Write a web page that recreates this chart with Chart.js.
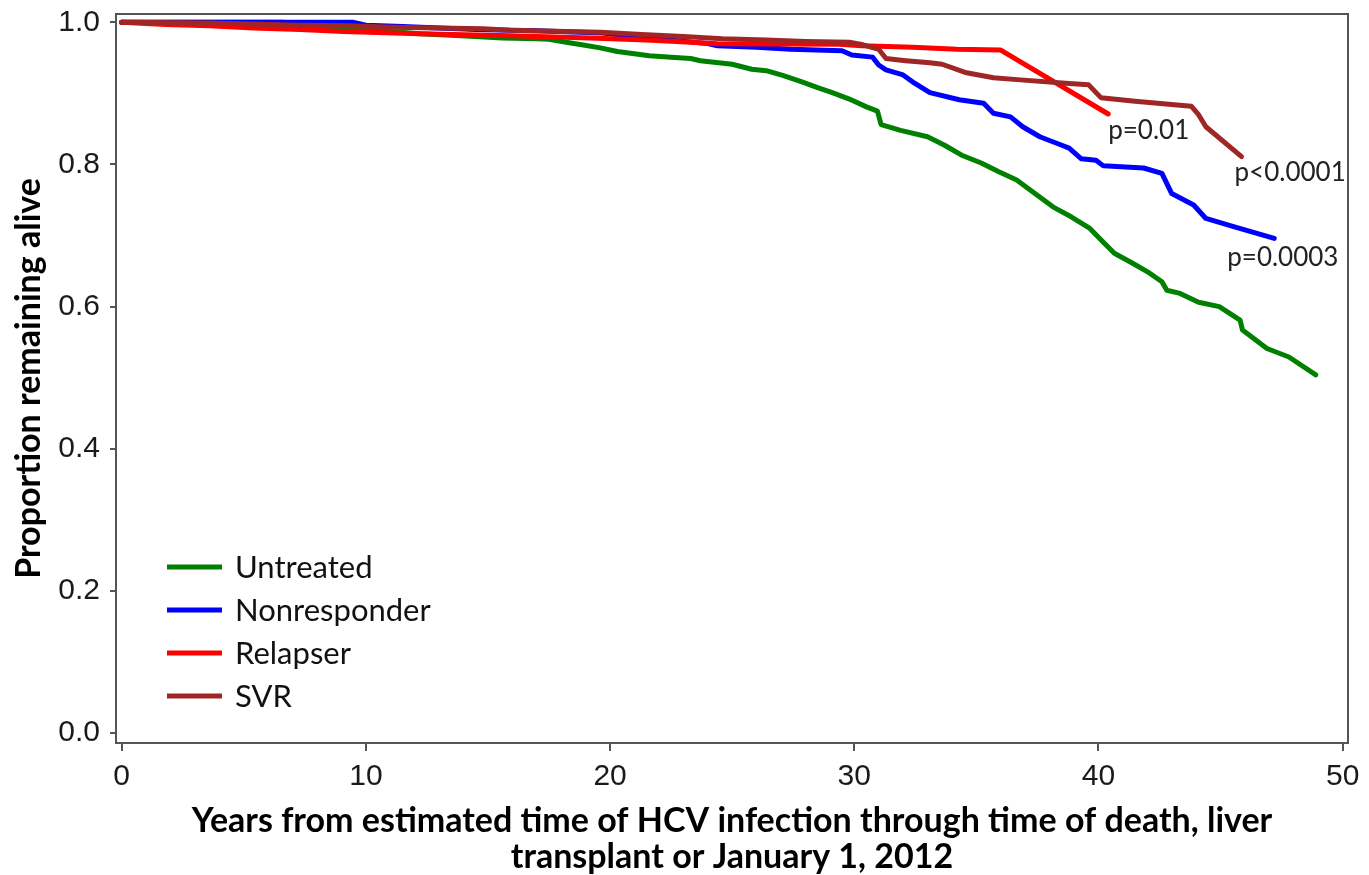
<!DOCTYPE html>
<html>
<head>
<meta charset="utf-8">
<script src="https://cdn.jsdelivr.net/npm/chart.js@4.4.1/dist/chart.umd.min.js"></script>
<style>
html,body{margin:0;padding:0;background:#fff;}
#wrap{width:1369px;height:875px;position:relative;}
</style>
</head>
<body>
<div id="wrap"><canvas id="c"></canvas></div>
<script>
// ---- Data ----
const seriesNames = ["Untreated", "Nonresponder", "Relapser", "SVR"];
const pLabels = ["p=0.01", "p<0.0001", "p=0.0003"];
const xTickValues = [0, 10, 20, 30, 40, 50];
const yTickValues = [0.0, 0.2, 0.4, 0.6, 0.8, 1.0];
const xTitle = ["Years from estimated time of HCV infection through time of death, liver", "transplant or January 1, 2012"];
const yTitle = "Proportion remaining alive";

const untreatedT = [0, 6.6, 7.5, 10, 12.2, 13.9, 15.6, 17.0, 17.5, 18.2, 18.9, 19.6, 20.3, 21.6, 22.5, 23.3, 23.7, 25.0, 25.8, 26.4, 27.1, 27.8, 28.5, 29.1, 29.8, 30.5, 30.95, 31.1, 31.9, 33.0, 33.7, 34.4, 35.2, 35.9, 36.65, 37.4, 38.15, 38.9, 39.65, 40.1, 40.65, 41.4, 42.1, 42.6, 42.8, 43.3, 44.1, 44.95, 45.8, 45.9, 46.9, 47.8, 48.9];
const untreatedS = [1.0, 1.0, 0.995, 0.990, 0.984, 0.981, 0.978, 0.977, 0.976, 0.972, 0.968, 0.964, 0.959, 0.953, 0.951, 0.949, 0.946, 0.941, 0.934, 0.932, 0.925, 0.917, 0.908, 0.901, 0.892, 0.881, 0.875, 0.856, 0.848, 0.839, 0.827, 0.813, 0.802, 0.790, 0.778, 0.759, 0.740, 0.726, 0.710, 0.694, 0.675, 0.661, 0.647, 0.635, 0.623, 0.619, 0.606, 0.600, 0.581, 0.567, 0.541, 0.529, 0.504];

const nonrespT = [0, 9.5, 10.0, 11.5, 14.5, 17.0, 19.7, 21.0, 24.0, 24.4, 26.0, 27.4, 29.5, 29.9, 30.75, 31.0, 31.3, 32.0, 32.4, 33.1, 34.3, 35.3, 35.7, 36.4, 36.9, 37.6, 38.5, 38.8, 39.3, 39.9, 40.2, 41.85, 42.6, 43.0, 43.9, 44.4, 45.5, 47.2];
const nonrespS = [1.0, 1.0, 0.996, 0.994, 0.990, 0.988, 0.985, 0.980, 0.970, 0.967, 0.965, 0.962, 0.960, 0.954, 0.951, 0.940, 0.933, 0.926, 0.916, 0.901, 0.891, 0.886, 0.872, 0.867, 0.853, 0.839, 0.827, 0.823, 0.808, 0.806, 0.798, 0.795, 0.7875, 0.759, 0.743, 0.724, 0.713, 0.696];

const relapserT = [0, 1.8, 3.6, 5.4, 7.3, 9.1, 12.2, 15.9, 19.2, 21.5, 23.3, 24.4, 29.4, 30.3, 32.4, 34.2, 36.0, 40.4];
const relapserS = [1.0, 0.997, 0.995, 0.992, 0.990, 0.987, 0.984, 0.981, 0.978, 0.975, 0.972, 0.970, 0.969, 0.967, 0.965, 0.962, 0.961, 0.871];

const svrT = [0, 3.6, 7.3, 9.3, 11.1, 14.8, 15.9, 19.6, 21.3, 23.0, 24.6, 26.4, 28.0, 29.8, 30.3, 31.0, 31.3, 32.1, 33.1, 33.6, 34.6, 35.7, 36.8, 38.8, 39.6, 40.1, 41.5, 43.8, 44.1, 44.4, 45.86];
const svrS = [1.0, 0.999, 0.996, 0.995, 0.993, 0.991, 0.989, 0.986, 0.983, 0.980, 0.977, 0.975, 0.973, 0.972, 0.969, 0.962, 0.949, 0.946, 0.943, 0.941, 0.929, 0.922, 0.919, 0.914, 0.912, 0.894, 0.889, 0.882, 0.870, 0.853, 0.811];

// ---- Styles ----
const colors = ["#008000", "#0000ff", "#ff0000", "#a02626"];
const toPts = (T, S) => T.map((t, i) => ({x: t, y: S[i]}));

const datasets = [
  {label: seriesNames[0], data: toPts(untreatedT, untreatedS), borderColor: colors[0], order: 3},
  {label: seriesNames[1], data: toPts(nonrespT, nonrespS), borderColor: colors[1], order: 2},
  {label: seriesNames[2], data: toPts(relapserT, relapserS), borderColor: colors[2], order: 1},
  {label: seriesNames[3], data: toPts(svrT, svrS), borderColor: colors[3], order: 0}
].map(d => Object.assign(d, {borderWidth: 5, pointRadius: 0, tension: 0, fill: false, borderJoinStyle: 'round', borderCapStyle: 'round'}));

const boxPlugin = {
  id: 'box',
  afterDraw(chart) {
    const {ctx, chartArea: a} = chart;
    ctx.save();
    ctx.strokeStyle = '#555';
    ctx.lineWidth = 2;
    ctx.strokeRect(a.left, a.top, a.right - a.left, a.bottom - a.top);
    ctx.restore();
  }
};

const legendPlugin = {
  id: 'inlegend',
  afterDatasetsDraw(chart) {
    const {ctx, chartArea: a} = chart;
    ctx.save();
    ctx.font = '31px Lato';
    ctx.textBaseline = 'middle';
    ctx.fillStyle = '#111';
    const x0 = a.left + 51, x1 = a.left + 106, tx = a.left + 119;
    const y0 = a.bottom - 176, dy = 43;
    chart.data.datasets.forEach((ds, i) => {
      const y = y0 + i * dy;
      ctx.strokeStyle = ds.borderColor;
      ctx.lineWidth = 5;
      ctx.beginPath(); ctx.moveTo(x0, y); ctx.lineTo(x1, y); ctx.stroke();
      ctx.fillText(ds.label, tx, y + 1);
    });
    ctx.restore();
  }
};

const annoPlugin = {
  id: 'anno',
  afterDatasetsDraw(chart) {
    const {ctx, scales, chartArea: a} = chart;
    const ends = [
      {ds: 2, dx: 0, dy: 17, text: pLabels[0]},
      {ds: 3, dx: -7, dy: 16, text: pLabels[1]},
      {ds: 1, dx: -47, dy: 19, text: pLabels[2]}
    ];
    ctx.save();
    ctx.font = '26px Lato';
    ctx.fillStyle = '#222';
    ctx.textBaseline = 'middle';
    ends.forEach(e => {
      const d = chart.data.datasets[e.ds].data;
      const p = d[d.length - 1];
      const px = scales.x.getPixelForValue(p.x) + e.dx;
      const py = scales.y.getPixelForValue(p.y) + e.dy;
      ctx.fillText(e.text, px, py);
    });
    // y axis title
    ctx.translate(29, (a.top + a.bottom) / 2);
    ctx.rotate(-Math.PI / 2);
    ctx.font = 'bold 34px Lato';
    ctx.fillStyle = '#000';
    ctx.textAlign = 'center';
    ctx.textBaseline = 'middle';
    ctx.fillText(yTitle, 0, 0);
    ctx.restore();
  }
};

new Chart(document.getElementById('c'), {
  type: 'line',
  data: {datasets},
  options: {
    responsive: true,
    maintainAspectRatio: false,
    animation: false,
    layout: {padding: {top: 14, right: 21, left: 0, bottom: 0}},
    plugins: {legend: {display: false}, tooltip: {enabled: false}},
    scales: {
      x: {
        type: 'linear',
        min: -0.233,
        max: 50.22,
        afterBuildTicks: s => { s.ticks = xTickValues.map(v => ({value: v})); },
        afterFit: s => { s.height = 132; s.paddingLeft = 0; s.paddingRight = 0; },
        border: {display: false},
        grid: {drawOnChartArea: false, drawTicks: true, tickLength: 8, color: '#555', lineWidth: 2},
        ticks: {font: {family: 'Liberation Sans', size: 30}, color: '#1a1a1a', padding: 8, maxRotation: 0,
                callback: v => String(v)},
        title: {display: true, text: xTitle, font: {family: 'Lato', weight: 'bold', size: 34, lineHeight: 1.06},
                color: '#000', padding: {top: 0, bottom: 0}}
      },
      y: {
        type: 'linear',
        min: -0.0141,
        max: 1.0117,
        afterBuildTicks: s => { s.ticks = yTickValues.map(v => ({value: v})); },
        afterFit: s => { s.width = 116; s.paddingTop = 0; s.paddingBottom = 0; },
        border: {display: false},
        grid: {drawOnChartArea: false, drawTicks: true, tickLength: 6, color: '#555', lineWidth: 2},
        ticks: {font: {family: 'Liberation Sans', size: 30}, color: '#1a1a1a', padding: 10,
                callback: v => Number(v).toFixed(1)}
      }
    }
  },
  plugins: [boxPlugin, legendPlugin, annoPlugin]
});
</script>
</body>
</html>
